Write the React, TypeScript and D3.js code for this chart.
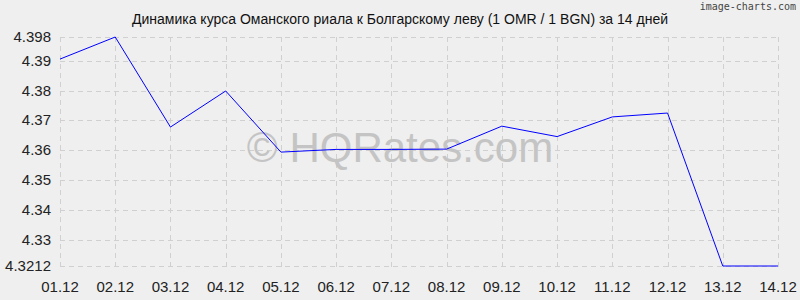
import React from "react";
import * as d3 from "d3";

const dates = ["01.12","02.12","03.12","04.12","05.12","06.12","07.12","08.12","09.12","10.12","11.12","12.12","13.12","14.12"];
const rates = [4.3906, 4.398, 4.3678, 4.3799, 4.3594, 4.3603, 4.3603, 4.3604, 4.3681, 4.3646, 4.3712, 4.3725, 4.3212, 4.3212];
const yTicks = [4.3212, 4.33, 4.34, 4.35, 4.36, 4.37, 4.38, 4.39, 4.398];
const yTickLabels = ["4.3212", "4.33", "4.34", "4.35", "4.36", "4.37", "4.38", "4.39", "4.398"];
const title = "Динамика курса Оманского риала к Болгарскому леву (1 OMR / 1 BGN) за 14 дней";

const W = 800, H = 300;
const left = 60, right = 778, top = 37, bottom = 266;

export default function App() {
  const x = d3.scalePoint<string>().domain(dates).range([left, right]);
  const y = d3.scaleLinear().domain([4.3212, 4.398]).range([bottom, top]);
  const line = d3.line<number>().x((_, i) => x(dates[i])!).y((d) => y(d));
  const font = "'Liberation Sans', Arial, sans-serif";
  return (
    <svg width={W} height={H} style={{ position: "absolute", left: 0, top: 0, display: "block" }}>
      <rect x={0} y={0} width={W} height={H} fill="#efefef" />
      {yTicks.map((t) => (
        <line key={"h" + t} x1={left} x2={right} y1={Math.round(y(t)) + 0.5} y2={Math.round(y(t)) + 0.5}
          stroke="#d0d0d0" strokeDasharray="5,4" />
      ))}
      {dates.map((d) => (
        <line key={"v" + d} x1={Math.round(x(d)!) + 0.5} x2={Math.round(x(d)!) + 0.5} y1={top} y2={bottom + 3}
          stroke="#d0d0d0" strokeDasharray="5,4" />
      ))}
      <text x={400} y={162} textAnchor="middle" fontFamily={font} fontSize={42} fill="#c4c4c4">© HQRates.com</text>
      <path d={line(rates) || ""} fill="none" stroke="#0000ff" strokeWidth={1} />
      {yTicks.map((t, i) => (
        <text key={"yl" + t} x={51} y={y(t) + 5} textAnchor="end" fontFamily={font} fontSize={15} fill="#222">{yTickLabels[i]}</text>
      ))}
      {dates.map((d) => (
        <text key={"xl" + d} x={x(d)!} y={292} textAnchor="middle" fontFamily={font} fontSize={15} fill="#222">{d}</text>
      ))}
      <text x={400} y={24} textAnchor="middle" fontFamily={font} fontSize={14} fill="#111">{title}</text>
      <text x={796} y={10} textAnchor="end" fontFamily="'DejaVu Sans Mono', monospace" fontSize={10} fill="#444">image-charts.com</text>
    </svg>
  );
}
